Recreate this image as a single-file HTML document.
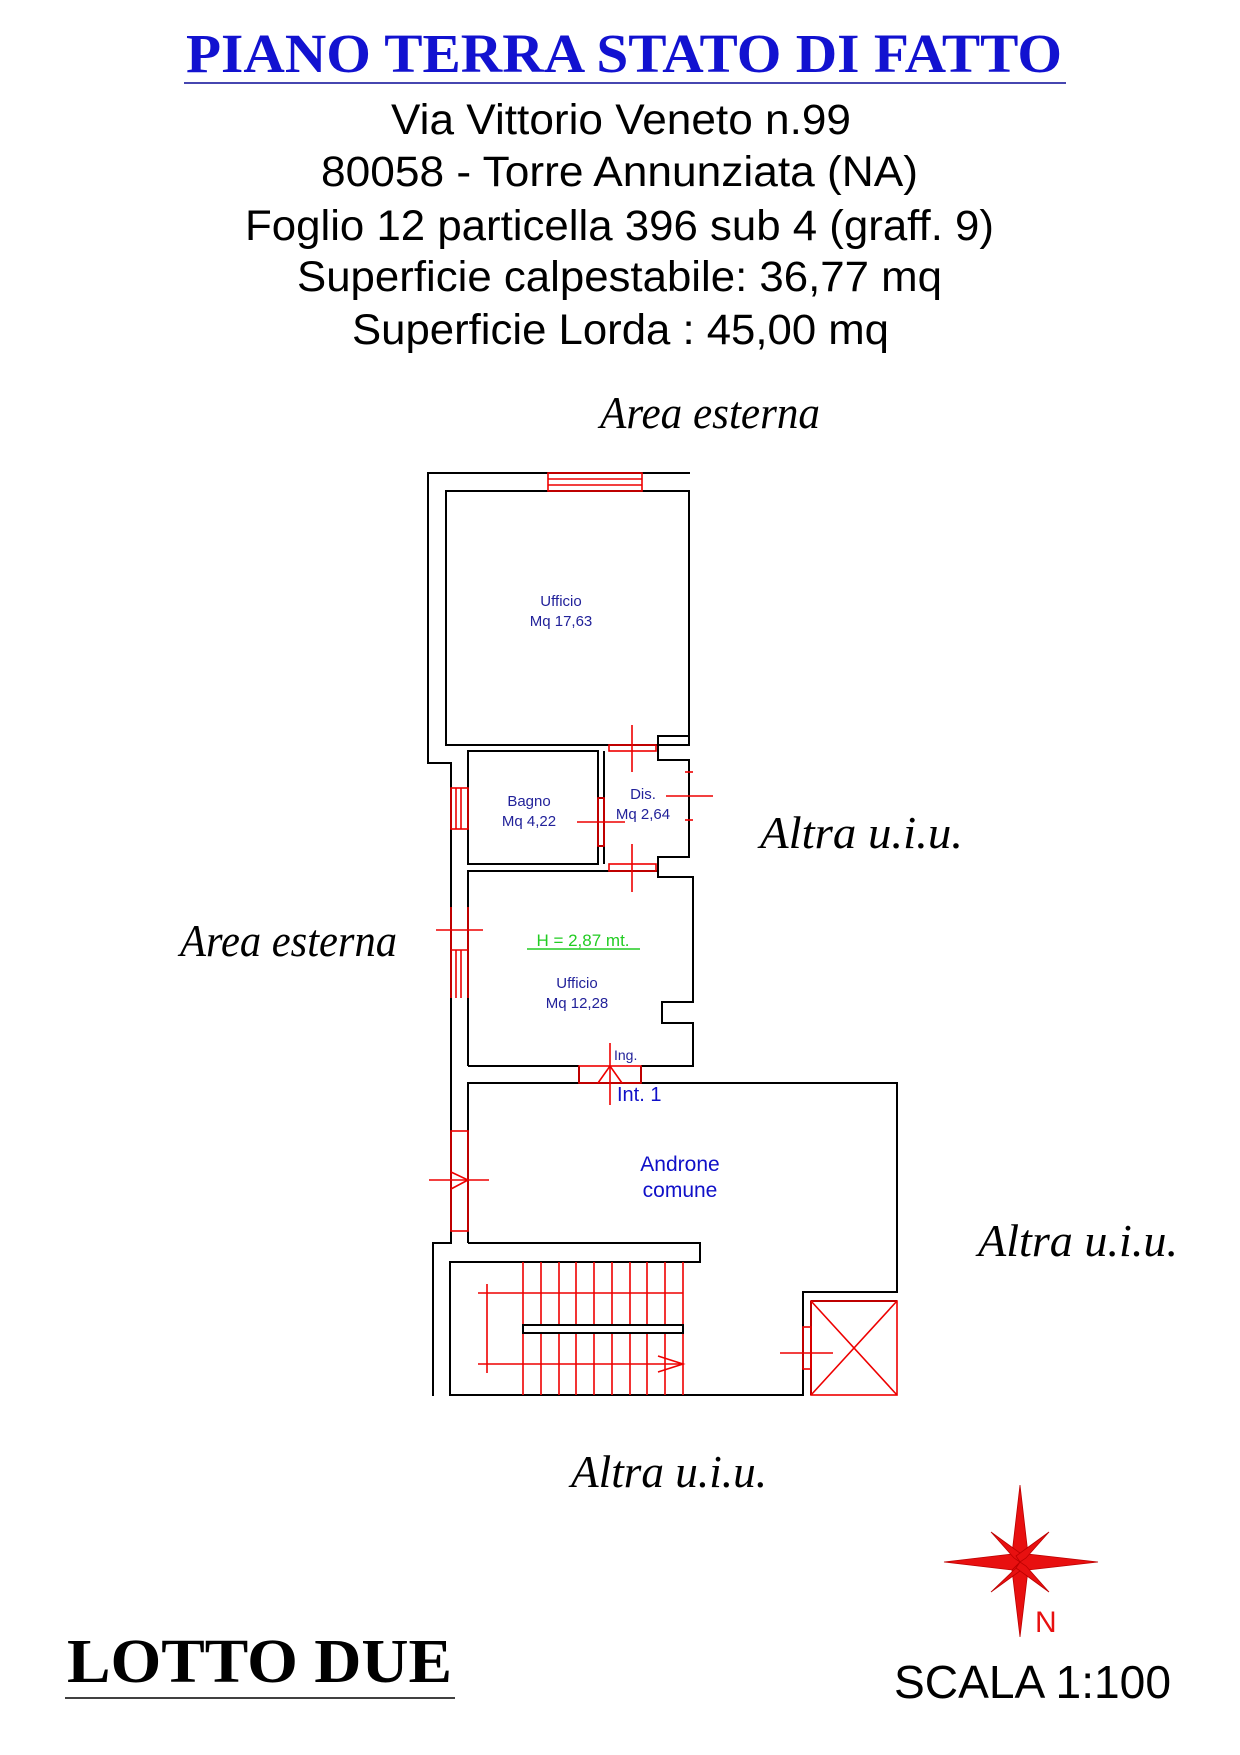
<!DOCTYPE html>
<html><head><meta charset="utf-8"><style>
html,body{margin:0;padding:0;background:#fff}
svg{display:block}
.ser{font-family:"Liberation Serif",serif}
.san{font-family:"Liberation Sans",sans-serif}
</style></head><body>
<svg width="1240" height="1755" viewBox="0 0 1240 1755" xmlns="http://www.w3.org/2000/svg">
<rect width="1240" height="1755" fill="#fff"/>
<text x="624" y="72" text-anchor="middle" class="ser" font-weight="bold" font-size="55" fill="#1212d0" textLength="876" lengthAdjust="spacingAndGlyphs">PIANO TERRA STATO DI FATTO</text>
<line x1="184" y1="83" x2="1066" y2="83" stroke="#4646b0" stroke-width="2"/>
<g class="san" font-size="43" fill="#000">
<text x="391" y="134" textLength="460" lengthAdjust="spacingAndGlyphs">Via Vittorio Veneto n.99</text>
<text x="321" y="186" textLength="597" lengthAdjust="spacingAndGlyphs">80058 - Torre Annunziata (NA)</text>
<text x="245" y="240" textLength="749" lengthAdjust="spacingAndGlyphs">Foglio 12 particella 396 sub 4 (graff. 9)</text>
<text x="297" y="291" textLength="645" lengthAdjust="spacingAndGlyphs">Superficie calpestabile: 36,77 mq</text>
<text x="352" y="344" textLength="537" lengthAdjust="spacingAndGlyphs">Superficie Lorda : 45,00 mq</text>
</g>
<g class="ser" font-style="italic" font-size="46" fill="#000">
<text x="600" y="428" textLength="220" lengthAdjust="spacingAndGlyphs">Area esterna</text>
<text x="180" y="956" textLength="217" lengthAdjust="spacingAndGlyphs">Area esterna</text>
<text x="760" y="848" textLength="203" lengthAdjust="spacingAndGlyphs">Altra u.i.u.</text>
<text x="978" y="1256" textLength="200" lengthAdjust="spacingAndGlyphs">Altra u.i.u.</text>
<text x="571" y="1487" textLength="196" lengthAdjust="spacingAndGlyphs">Altra u.i.u.</text>
</g>
<g fill="none" stroke="#000" stroke-width="2">
<polyline points="690,473 428,473 428,763 451,763 451,1243 433,1243 433,1396"/>
<rect x="446" y="491" width="243" height="254"/>
<polyline points="689,736 658,736 658,760 689,760 689,857 658,857 658,877"/>
<rect x="468" y="751" width="130" height="113"/>
<polyline points="604,751 604,864"/>
<line x1="598" y1="798" x2="604" y2="798"/><line x1="598" y1="846" x2="604" y2="846"/>
<polyline points="468,1066 468,871 658,871 658,877 693,877 693,1002 662,1002 662,1023 693,1023 693,1066 641,1066"/>
<line x1="468" y1="1066" x2="579" y2="1066"/>
<line x1="579" y1="1066" x2="579" y2="1083"/><line x1="641" y1="1066" x2="641" y2="1083"/>
<polyline points="468,1243 468,1083 897,1083 897,1292 803,1292 803,1395 450,1395 450,1262 700,1262 700,1243 468,1243"/>
<line x1="811" y1="1301" x2="811" y2="1395"/><line x1="811" y1="1301" x2="897" y2="1301"/>
</g>
<g fill="none" stroke="#e00" stroke-width="1.6">
<rect x="548" y="473" width="94" height="18"/>
<line x1="548" y1="479" x2="642" y2="479"/><line x1="548" y1="485" x2="642" y2="485"/>
<rect x="609" y="745" width="47" height="6"/><line x1="632" y1="725" x2="632" y2="772"/>
<rect x="609" y="864" width="47" height="7"/><line x1="632" y1="844" x2="632" y2="892"/>
<rect x="598" y="798" width="6" height="48"/><line x1="577" y1="822" x2="625" y2="822"/>
<line x1="666" y1="796" x2="713" y2="796"/><line x1="685" y1="772" x2="693" y2="772"/><line x1="685" y1="820" x2="693" y2="820"/>
<rect x="451" y="788" width="17" height="41"/><line x1="456" y1="788" x2="456" y2="829"/><line x1="461" y1="788" x2="461" y2="829"/>
<line x1="451" y1="907" x2="451" y2="998"/><line x1="468" y1="907" x2="468" y2="998"/>
<line x1="451" y1="950" x2="468" y2="950"/><line x1="456" y1="950" x2="456" y2="998"/><line x1="461" y1="950" x2="461" y2="998"/>
<line x1="436" y1="930" x2="483" y2="930"/>
<rect x="579" y="1066" width="62" height="17"/>
<line x1="610" y1="1043" x2="610" y2="1105"/><polyline points="598,1083 610,1066 622,1083"/>
<rect x="451" y="1131" width="17" height="100"/>
<line x1="429" y1="1180" x2="489" y2="1180"/><polyline points="451,1172 468,1180 451,1189"/>
<line x1="523" y1="1262" x2="523" y2="1395"/><line x1="541" y1="1262" x2="541" y2="1395"/><line x1="559" y1="1262" x2="559" y2="1395"/><line x1="576" y1="1262" x2="576" y2="1395"/><line x1="594" y1="1262" x2="594" y2="1395"/><line x1="612" y1="1262" x2="612" y2="1395"/><line x1="630" y1="1262" x2="630" y2="1395"/><line x1="647" y1="1262" x2="647" y2="1395"/><line x1="665" y1="1262" x2="665" y2="1395"/><line x1="683" y1="1262" x2="683" y2="1395"/>
<line x1="478" y1="1293" x2="683" y2="1293"/><line x1="478" y1="1364" x2="683" y2="1364"/><line x1="487" y1="1284" x2="487" y2="1373"/>
<polyline points="658,1356 683,1364 658,1372"/>
<rect x="811" y="1301" width="86" height="94"/>
<line x1="811" y1="1301" x2="897" y2="1395"/><line x1="897" y1="1301" x2="811" y2="1395"/>
<rect x="803" y="1327" width="8" height="42"/><line x1="780" y1="1353" x2="833" y2="1353"/>
</g>
<rect x="523" y="1325" width="160" height="8" fill="#fff" stroke="#000" stroke-width="2"/>
<g class="san" fill="#22229a" text-anchor="middle" font-size="15">
<text x="561" y="606">Ufficio</text><text x="561" y="626">Mq  17,63</text>
<text x="529" y="806">Bagno</text><text x="529" y="826">Mq  4,22</text>
<text x="643" y="799">Dis.</text><text x="643" y="819">Mq  2,64</text>
<text x="577" y="988">Ufficio</text><text x="577" y="1008">Mq  12,28</text>
<text x="614" y="1060" font-size="14" text-anchor="start">Ing.</text>
</g>
<text x="583" y="946" text-anchor="middle" class="san" font-size="17" fill="#22cc22">H = 2,87 mt.</text>
<line x1="527" y1="949" x2="640" y2="949" stroke="#22cc22" stroke-width="1.5"/>
<text x="617" y="1101" class="san" font-size="20" fill="#1010c8">Int. 1</text>
<g class="san" font-size="21" fill="#1010c8" text-anchor="middle"><text x="680" y="1171">Androne</text><text x="680" y="1197">comune</text></g>
<g fill="#e81010" stroke="#b00" stroke-width="0.8">
<polygon points="1020,1485 1028,1554 1020,1562 1012,1554"/>
<polygon points="1020,1637 1028,1570 1020,1562 1012,1570"/>
<polygon points="944,1562 1012,1554 1020,1562 1012,1570"/>
<polygon points="1098,1562 1028,1554 1020,1562 1028,1570"/>
<polygon points="991,1532 1024,1556 1020,1562 1014,1558"/>
<polygon points="1049,1532 1026,1558 1020,1562 1016,1556"/>
<polygon points="991,1592 1016,1568 1020,1562 1024,1568"/>
<polygon points="1049,1592 1016,1568 1020,1562 1026,1566"/>
</g>
<text x="1035" y="1632" class="san" font-size="30" fill="#e81010">N</text>
<text x="67" y="1682" class="ser" font-weight="bold" font-size="62" fill="#000" textLength="385" lengthAdjust="spacingAndGlyphs">LOTTO DUE</text>
<line x1="65" y1="1698" x2="455" y2="1698" stroke="#000" stroke-width="1.5"/>
<text x="894" y="1698" class="san" font-size="46" fill="#000" textLength="277" lengthAdjust="spacingAndGlyphs">SCALA 1:100</text>
</svg>
</body></html>
